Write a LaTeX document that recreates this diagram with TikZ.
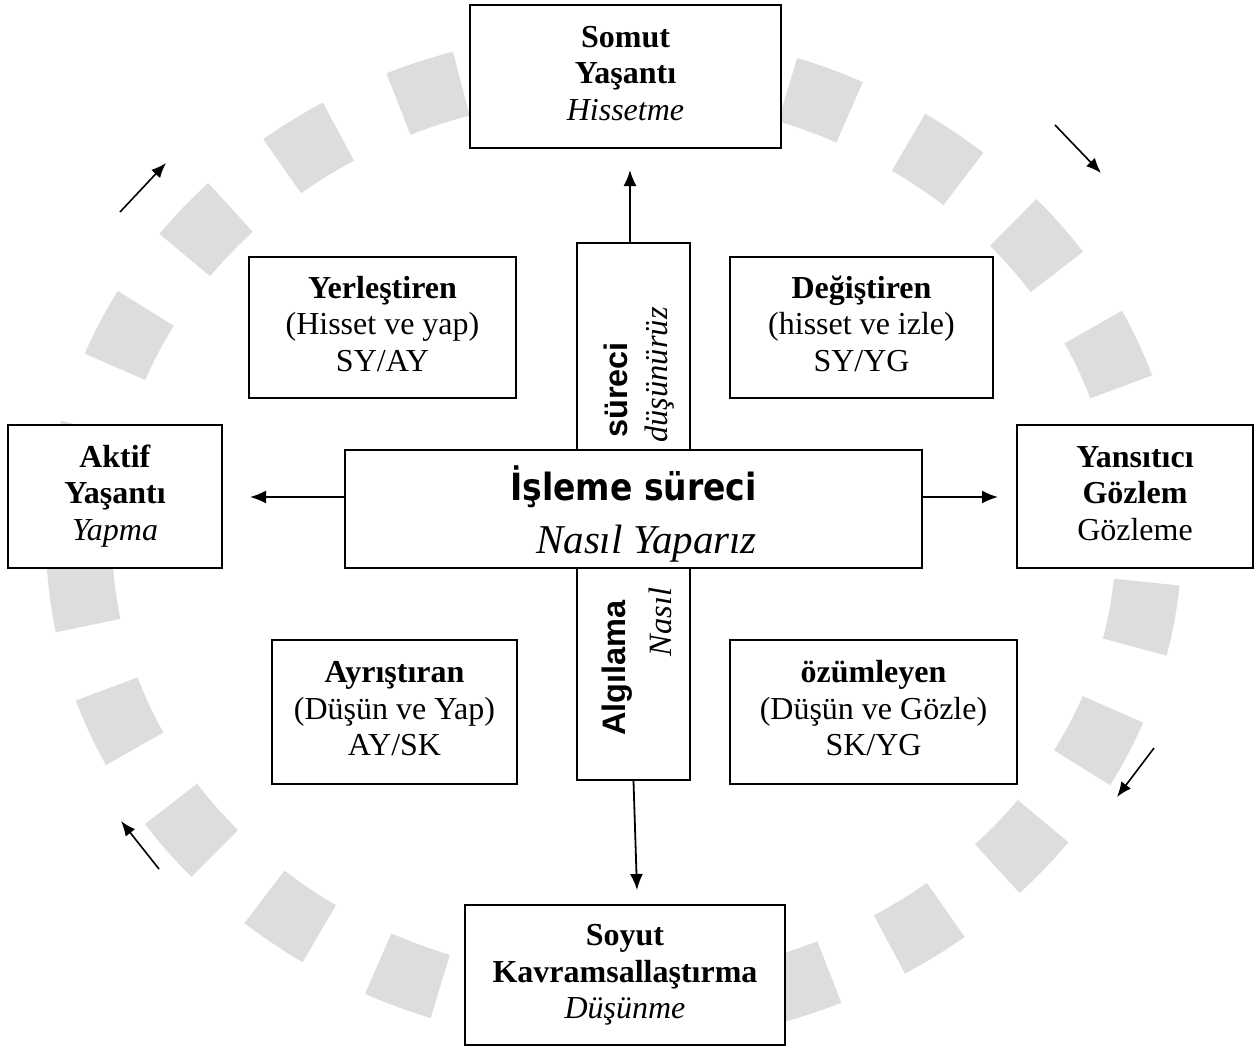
\documentclass[tikz,border=0pt]{standalone}
\usepackage{fontspec}
\setmainfont{Liberation Serif}
\newfontfamily\titlefont{DejaVu Sans}[FakeStretch=0.88]
\newfontfamily\arialfont{Liberation Sans}
\usetikzlibrary{arrows.meta}
\definecolor{ringgray}{RGB}{221,221,221}
\begin{document}
\begin{tikzpicture}[x=1pt,y=-1pt,
  box/.style={draw=black,line width=2pt,fill=white,rectangle,inner sep=0pt,align=center,
    font=\fontsize{32}{36.5}\selectfont},
  arr/.style={line width=1.8pt,-{Latex[length=16pt,width=13pt]}},
  ringarr/.style={line width=1.6pt,-{Latex[length=15pt,width=12pt]}},
  vsans/.style={rotate=90,inner sep=0pt,font=\arialfont\bfseries\fontsize{32.5}{36}\selectfont},
  vital/.style={rotate=90,inner sep=0pt,font=\itshape\fontsize{32.5}{36}\selectfont},
]
\useasboundingbox (0,0) rectangle (1256,1050);
% ring
\draw[ringgray,line width=66pt,dash pattern=on 66.1pt off 66.1pt,dash phase=88pt]
  (614,538) ellipse [x radius=535, y radius=474];

% ring arrows
\coordinate (tla) at (120,212); \coordinate (tlb) at (166,163);
\coordinate (tra) at (1055,125); \coordinate (trb) at (1101,173);
\coordinate (bra) at (1154,748); \coordinate (brb) at (1117,797);
\coordinate (bla) at (159,869); \coordinate (blb) at (121,821);
\draw[ringarr] (tla) -- (tlb);
\draw[ringarr] (tra) -- (trb);
\draw[ringarr] (bra) -- (brb);
\draw[ringarr] (bla) -- (blb);

% outer boxes
\node[box,minimum width=311pt,minimum height=143pt] (somut) at (625.5,76.5)
  {\strut\textbf{Somut}\\\textbf{Yaşantı}\\\textit{Hissetme}\strut};
\node[box,minimum width=214pt,minimum height=143pt] (aktif) at (115,496.5)
  {\strut\textbf{Aktif}\\\textbf{Yaşantı}\\\textit{Yapma}\strut};
\node[box,minimum width=236pt,minimum height=143pt] (yans) at (1135,496.5)
  {\strut\textbf{Yansıtıcı}\\\textbf{Gözlem}\\Gözleme\strut};
\node[box,minimum width=320pt,minimum height=140pt] (soyut) at (625,975)
  {\strut\textbf{Soyut}\\\textbf{Kavramsallaştırma}\\\textit{Düşünme}\strut};

% inner boxes
\node[box,minimum width=267pt,minimum height=141pt] (yerl) at (382.5,327.5)
  {\strut\textbf{Yerleştiren}\\(Hisset ve yap)\\SY/AY\strut};
\node[box,minimum width=263pt,minimum height=141pt] (degis) at (861.5,327.5)
  {\strut\textbf{Değiştiren}\\(hisset ve izle)\\SY/YG\strut};
\node[box,minimum width=245pt,minimum height=144pt] (ayris) at (394.5,712)
  {\strut\textbf{Ayrıştıran}\\(Düşün ve Yap)\\AY/SK\strut};
\node[box,minimum width=287pt,minimum height=144pt] (ozum) at (873.5,712)
  {\strut\textbf{özümleyen}\\(Düşün ve Gözle)\\SK/YG\strut};

% cross
\node[draw=black,line width=2pt,fill=white,minimum width=113pt,minimum height=537pt,inner sep=0pt]
  (vbar) at (633.5,511.5) {};
\node[vsans] (sureci) at (616,390) {süreci};
\node[vital] (dusun) at (660,375) {düşünürüz};
\node[vsans] (algi) at (617,668) {Algılama};
\node[vital] (nasil) at (660,622) {Nasıl};
\node[box,minimum width=577pt,minimum height=118pt,font=\fontsize{41}{53}\selectfont] (proc) at (633.5,509)
  {\rule{0pt}{44pt}{\titlefont\bfseries\fontsize{37.5}{40}\selectfont İşleme süreci}\\\hspace*{26pt}{\itshape Nasıl Yaparız}};

% connectors
\coordinate (tTop) at (630,170);
\coordinate (tLeft) at (250,497);
\coordinate (tRight) at (998,497);
\coordinate (tBot) at (637,890);
\draw[arr] (vbar.north -| tTop) -- (tTop);
\draw[arr] (proc.west |- tLeft) -- (tLeft);
\draw[arr] (proc.east |- tRight) -- (tRight);
\draw[arr] (vbar.south) -- (tBot);
\end{tikzpicture}
\end{document}
